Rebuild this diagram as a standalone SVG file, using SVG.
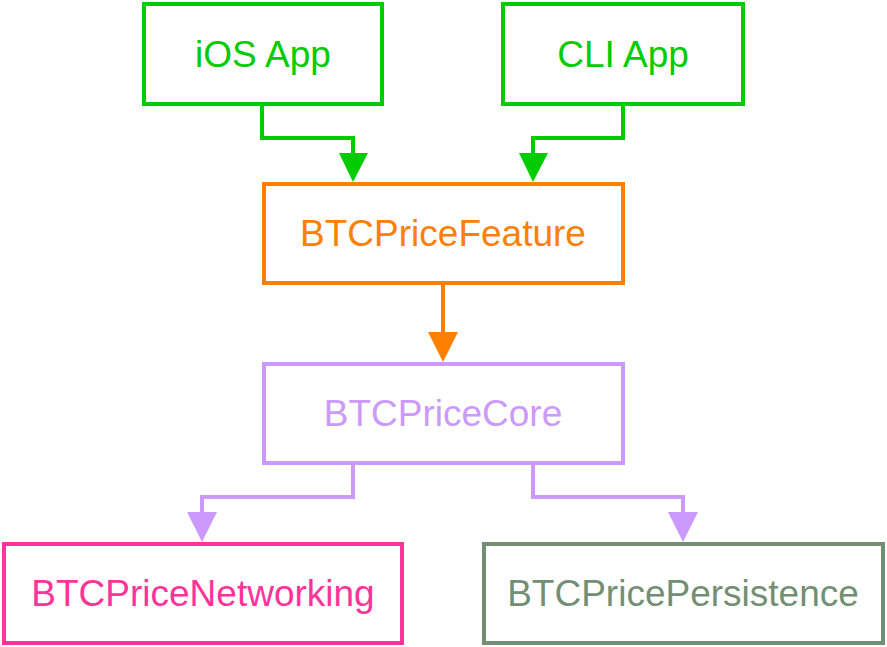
<svg xmlns="http://www.w3.org/2000/svg" width="887" height="647" viewBox="0 0 887 647">
<defs>
<style>
rect{fill:#fff;stroke-width:4}
text{font-family:"Liberation Sans",Arial,sans-serif;font-size:37px;text-anchor:middle}
.c{fill:none;stroke-width:4}
</style>
</defs>
<rect width="887" height="647" style="fill:#fff;stroke:none"/>
<g id="connectors">
<path class="c" stroke="#00CC00" d="M262,104V138H353V153"/>
<path d="M339,153H368L353,182Z" fill="#00CC00"/>
<path class="c" stroke="#00CC00" d="M623,104V138H533V153"/>
<path d="M519,153H548L533,182Z" fill="#00CC00"/>
<path class="c" stroke="#FF8000" d="M443,283V333"/>
<path d="M428,332H458L443,362Z" fill="#FF8000"/>
<path class="c" stroke="#CC99FF" d="M353,463V497H202V513"/>
<path d="M187,512H217L202,542Z" fill="#CC99FF"/>
<path class="c" stroke="#CC99FF" d="M533,463V497H683V513"/>
<path d="M668,512H698L683,542Z" fill="#CC99FF"/>
</g>
<g id="ios"><rect x="144" y="4" width="238" height="100" stroke="#00CC00"/><text x="263" y="67" fill="#00CC00">iOS App</text></g>
<g id="cli"><rect x="503" y="4" width="240" height="100" stroke="#00CC00"/><text x="623" y="67" fill="#00CC00">CLI App</text></g>
<g id="feature"><rect x="264" y="184" width="359" height="99" stroke="#FF8000"/><text x="443" y="246" fill="#FF8000">BTCPriceFeature</text></g>
<g id="core"><rect x="264" y="364" width="359" height="99" stroke="#CC99FF"/><text x="443" y="426" fill="#CC99FF">BTCPriceCore</text></g>
<g id="networking"><rect x="4" y="544" width="398" height="99" stroke="#FF3399"/><text x="203" y="606" fill="#FF3399">BTCPriceNetworking</text></g>
<g id="persistence"><rect x="484" y="544" width="399" height="99" stroke="#738F73"/><text x="683" y="606" fill="#738F73">BTCPricePersistence</text></g>
</svg>
